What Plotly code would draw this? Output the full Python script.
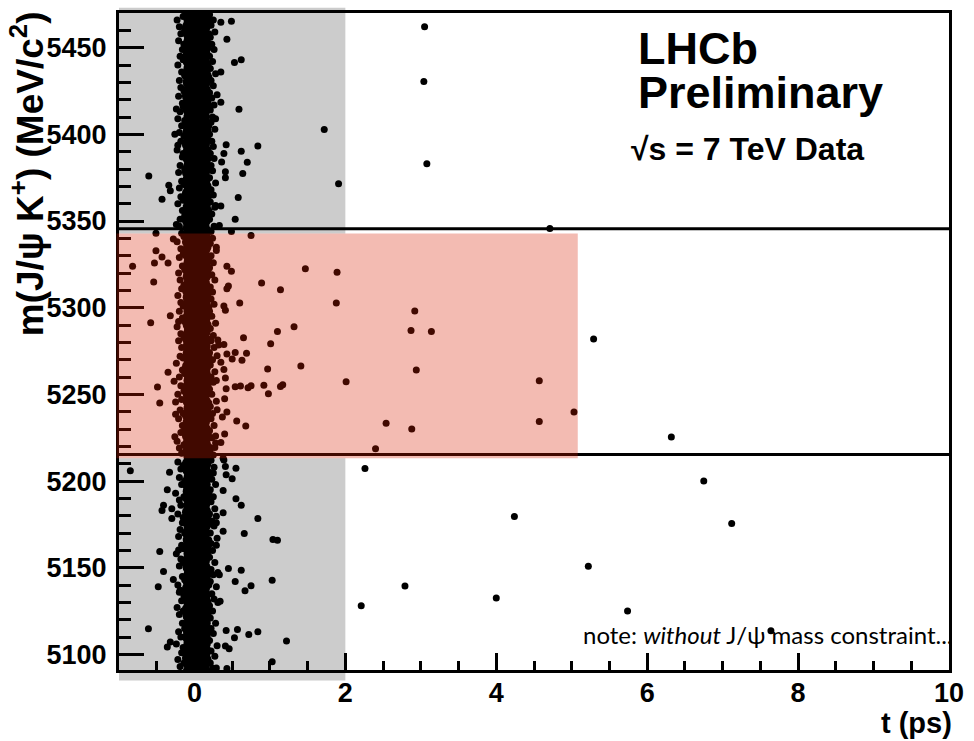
import plotly.graph_objects as go

# ---------------------------------------------------------------- axes ranges
T_RANGE = [-1.0, 10.0]          # decay time t (ps)
M_RANGE = [5091.0, 5470.0]      # m(J/psi K+) (MeV/c^2)

# prompt window (grey) and signal window (red)
PROMPT_T_MAX = 2.0
SIGNAL_T_MAX = 5.08
SIGNAL_M = [5213.2, 5342.8]
# horizontal mass cut lines
CUT_LINES = [5345.5, 5215.3]

# ---------------------------------------------------------------- data
# dense prompt core: (mass, t1, t2, t3)
core_rows = [
    (5090, -0.07, 0.03, 0.13), (5094, -0.06, 0.04, 0.12), (5098, -0.08, 0.02, 0.13),
    (5102, -0.07, 0.04, 0.14), (5106, -0.06, 0.03, 0.12), (5110, -0.08, 0.05, 0.13),
    (5114, -0.07, 0.03, 0.14), (5118, -0.06, 0.02, 0.13), (5122, -0.07, 0.04, 0.12),
    (5126, -0.08, 0.03, 0.13), (5130, -0.06, 0.05, 0.14), (5134, -0.07, 0.03, 0.13),
    (5138, -0.08, 0.02, 0.12), (5142, -0.07, 0.04, 0.13), (5146, -0.06, 0.03, 0.14),
    (5150, -0.07, 0.04, 0.13), (5154, -0.08, 0.03, 0.12), (5158, -0.06, 0.05, 0.13),
    (5162, -0.07, 0.02, 0.14), (5166, -0.07, 0.04, 0.13), (5170, -0.08, 0.03, 0.12),
    (5174, -0.06, 0.04, 0.13), (5178, -0.07, 0.03, 0.14), (5182, -0.08, 0.05, 0.13),
    (5186, -0.06, 0.02, 0.12), (5190, -0.07, 0.04, 0.13), (5194, -0.07, 0.03, 0.14),
    (5198, -0.08, 0.04, 0.13), (5202, -0.06, 0.03, 0.12), (5206, -0.07, 0.05, 0.13),
    (5210, -0.08, 0.02, 0.14), (5214, -0.06, 0.04, 0.13), (5218, -0.07, 0.03, 0.12),
    (5222, -0.07, 0.04, 0.13), (5226, -0.08, 0.03, 0.14), (5230, -0.06, 0.05, 0.13),
    (5234, -0.07, 0.02, 0.12), (5238, -0.08, 0.04, 0.13), (5242, -0.06, 0.03, 0.14),
    (5246, -0.07, 0.04, 0.13), (5250, -0.07, 0.03, 0.12), (5254, -0.08, 0.05, 0.13),
    (5258, -0.06, 0.02, 0.14), (5262, -0.07, 0.04, 0.13), (5266, -0.08, 0.03, 0.12),
    (5270, -0.06, 0.04, 0.13), (5274, -0.07, 0.03, 0.14), (5278, -0.07, 0.05, 0.13),
    (5282, -0.08, 0.02, 0.12), (5286, -0.06, 0.04, 0.13), (5290, -0.07, 0.03, 0.14),
    (5294, -0.08, 0.04, 0.13), (5298, -0.06, 0.03, 0.12), (5302, -0.07, 0.05, 0.13),
    (5306, -0.07, 0.02, 0.14), (5310, -0.08, 0.04, 0.13), (5314, -0.06, 0.03, 0.12),
    (5318, -0.07, 0.04, 0.13), (5322, -0.08, 0.03, 0.14), (5326, -0.06, 0.05, 0.13),
    (5330, -0.07, 0.02, 0.12), (5334, -0.07, 0.04, 0.13), (5338, -0.08, 0.03, 0.14),
    (5342, -0.06, 0.04, 0.13), (5346, -0.07, 0.03, 0.12), (5350, -0.08, 0.05, 0.13),
    (5354, -0.06, 0.02, 0.14), (5358, -0.07, 0.04, 0.13), (5362, -0.07, 0.03, 0.12),
    (5366, -0.08, 0.04, 0.13), (5370, -0.06, 0.03, 0.14), (5374, -0.07, 0.05, 0.13),
    (5378, -0.08, 0.02, 0.12), (5382, -0.06, 0.04, 0.13), (5386, -0.07, 0.03, 0.14),
    (5390, -0.07, 0.04, 0.13), (5394, -0.08, 0.03, 0.12), (5398, -0.06, 0.05, 0.13),
    (5402, -0.07, 0.02, 0.14), (5406, -0.08, 0.04, 0.13), (5410, -0.06, 0.03, 0.12),
    (5414, -0.07, 0.04, 0.13), (5418, -0.07, 0.03, 0.14), (5422, -0.08, 0.05, 0.13),
    (5426, -0.06, 0.02, 0.12), (5430, -0.07, 0.04, 0.13), (5434, -0.08, 0.03, 0.14),
    (5438, -0.06, 0.04, 0.13), (5442, -0.07, 0.03, 0.12), (5446, -0.07, 0.05, 0.13),
    (5450, -0.08, 0.02, 0.14), (5454, -0.06, 0.04, 0.13), (5458, -0.07, 0.03, 0.12),
    (5462, -0.08, 0.04, 0.13), (5466, -0.06, 0.03, 0.14), (5470, -0.07, 0.05, 0.13),
]

# candidates on the ragged left edge of the prompt core: (t, mass)
core_left_edge = [
    (-0.19, 5093), (-0.22, 5097), (-0.17, 5101), (-0.24, 5106), (-0.18, 5110),
    (-0.21, 5113), (-0.16, 5118), (-0.20, 5123), (-0.23, 5127), (-0.17, 5131),
    (-0.19, 5137), (-0.22, 5140), (-0.16, 5145), (-0.20, 5151), (-0.18, 5155),
    (-0.24, 5158), (-0.17, 5163), (-0.21, 5168), (-0.19, 5172), (-0.16, 5176),
    (-0.22, 5181), (-0.18, 5186), (-0.20, 5189), (-0.25, 5193), (-0.17, 5198),
    (-0.20, 5202), (-0.18, 5207), (-0.22, 5211), (-0.17, 5216), (-0.20, 5219),
    (-0.23, 5223), (-0.18, 5228), (-0.16, 5232), (-0.21, 5236), (-0.19, 5241),
    (-0.17, 5247), (-0.22, 5250), (-0.18, 5255), (-0.20, 5260), (-0.16, 5264),
    (-0.24, 5268), (-0.19, 5272), (-0.17, 5277), (-0.21, 5281), (-0.18, 5285),
    (-0.23, 5289), (-0.16, 5294), (-0.20, 5298), (-0.18, 5303), (-0.22, 5307),
    (-0.17, 5311), (-0.19, 5316), (-0.21, 5320), (-0.16, 5324), (-0.20, 5329),
    (-0.18, 5334), (-0.23, 5338), (-0.17, 5343), (-0.20, 5347), (-0.19, 5351),
    (-0.16, 5356), (-0.22, 5360), (-0.18, 5364), (-0.20, 5369), (-0.17, 5373),
    (-0.21, 5378), (-0.19, 5382), (-0.16, 5387), (-0.23, 5391), (-0.18, 5396),
    (-0.20, 5401), (-0.17, 5405), (-0.22, 5409), (-0.19, 5413), (-0.16, 5418),
    (-0.21, 5422), (-0.18, 5427), (-0.20, 5431), (-0.17, 5436), (-0.22, 5440),
    (-0.19, 5445), (-0.16, 5449), (-0.21, 5454), (-0.18, 5458), (-0.20, 5462),
    (-0.23, 5466),
    # second, inner row hugging the core
    (-0.14, 5095), (-0.15, 5104), (-0.13, 5115), (-0.15, 5125), (-0.14, 5134),
    (-0.13, 5143), (-0.15, 5153), (-0.14, 5161), (-0.13, 5170), (-0.15, 5179),
    (-0.14, 5191), (-0.13, 5200), (-0.15, 5209), (-0.14, 5221), (-0.13, 5230),
    (-0.15, 5239), (-0.14, 5252), (-0.13, 5262), (-0.15, 5271), (-0.14, 5283),
    (-0.13, 5292), (-0.15, 5301), (-0.14, 5313), (-0.13, 5322), (-0.15, 5331),
    (-0.14, 5341), (-0.13, 5353), (-0.15, 5362), (-0.14, 5371), (-0.13, 5380),
    (-0.15, 5389), (-0.14, 5399), (-0.13, 5408), (-0.15, 5416), (-0.14, 5425),
    (-0.13, 5434), (-0.15, 5443), (-0.14, 5452), (-0.13, 5460), (-0.15, 5468),
]

# candidates on the right edge (start of the lifetime tail): (t, mass)
core_right_edge = [
    (0.24, 5092), (0.21, 5095), (0.27, 5099), (0.22, 5102), (0.30, 5105),
    (0.20, 5108), (0.25, 5112), (0.22, 5115), (0.28, 5118), (0.21, 5121),
    (0.24, 5125), (0.20, 5128), (0.26, 5132), (0.23, 5135), (0.29, 5139),
    (0.21, 5142), (0.25, 5146), (0.22, 5149), (0.27, 5153), (0.20, 5156),
    (0.24, 5160), (0.22, 5164), (0.30, 5167), (0.21, 5170), (0.26, 5174),
    (0.23, 5177), (0.20, 5181), (0.27, 5184), (0.22, 5188), (0.25, 5191),
    (0.21, 5195), (0.28, 5198), (0.23, 5201), (0.20, 5205), (0.26, 5208),
    (0.22, 5212), (0.25, 5215), (0.21, 5218), (0.28, 5222), (0.23, 5225),
    (0.20, 5229), (0.26, 5232), (0.22, 5236), (0.24, 5239), (0.21, 5243),
    (0.29, 5246), (0.23, 5250), (0.20, 5253), (0.25, 5257), (0.22, 5260),
    (0.27, 5263), (0.21, 5267), (0.24, 5270), (0.20, 5274), (0.26, 5277),
    (0.22, 5281), (0.25, 5284), (0.21, 5288), (0.28, 5291), (0.23, 5295),
    (0.20, 5298), (0.26, 5302), (0.22, 5305), (0.24, 5309), (0.21, 5312),
    (0.27, 5316), (0.23, 5319), (0.20, 5323), (0.25, 5326), (0.22, 5330),
    (0.29, 5333), (0.21, 5337), (0.24, 5340), (0.22, 5344), (0.26, 5347),
    (0.20, 5351), (0.23, 5354), (0.27, 5358), (0.21, 5361), (0.25, 5365),
    (0.22, 5368), (0.28, 5372), (0.20, 5375), (0.24, 5379), (0.22, 5382),
    (0.26, 5386), (0.21, 5389), (0.25, 5393), (0.23, 5396), (0.20, 5400),
    (0.27, 5403), (0.22, 5407), (0.24, 5410), (0.21, 5414), (0.26, 5417),
    (0.23, 5421), (0.20, 5424), (0.25, 5428), (0.22, 5431), (0.28, 5435),
    (0.21, 5438), (0.24, 5442), (0.20, 5445), (0.26, 5449), (0.23, 5452),
    (0.21, 5456), (0.27, 5459), (0.22, 5463), (0.25, 5466), (0.20, 5469),
    # second, inner row hugging the core
    (0.18, 5097), (0.17, 5106), (0.19, 5113), (0.18, 5123), (0.17, 5130),
    (0.19, 5140), (0.18, 5147), (0.17, 5158), (0.19, 5166), (0.18, 5175),
    (0.17, 5183), (0.19, 5193), (0.18, 5203), (0.17, 5210), (0.19, 5220),
    (0.18, 5227), (0.17, 5237), (0.19, 5245), (0.18, 5255), (0.17, 5265),
    (0.19, 5272), (0.18, 5282), (0.17, 5290), (0.19, 5300), (0.18, 5308),
    (0.17, 5318), (0.19, 5328), (0.18, 5335), (0.17, 5345), (0.19, 5356),
    (0.18, 5363), (0.17, 5370), (0.19, 5380), (0.18, 5391), (0.17, 5398),
    (0.19, 5405), (0.18, 5415), (0.17, 5426), (0.19, 5433), (0.18, 5440),
    (0.17, 5451), (0.19, 5458), (0.18, 5465),
]

# isolated candidates, upper sideband: (t, mass)
upper_sideband = [
    (0.35, 5464.7), (0.49, 5465.3), (0.43, 5454.8), (0.62, 5443.0), (0.53, 5441.4),
    (0.35, 5436.0), (0.30, 5422.9), (0.35, 5418.5), (0.59, 5414.5), (1.72, 5402.8),
    (0.28, 5409.0), (0.84, 5393.3), (0.42, 5394.0), (0.39, 5389.0), (0.62, 5390.2),
    (0.70, 5383.9), (0.36, 5384.0), (0.41, 5378.4), (0.41, 5374.9), (0.64, 5377.4),
    (-0.605, 5376.0), (1.91, 5371.5), (-0.34, 5370.7), (-0.32, 5367.5), (-0.43, 5362.5),
    (0.58, 5363.6), (0.28, 5358.9), (0.35, 5358.7), (0.54, 5351.0), (0.33, 5347.4),
    (-0.24, 5414.6), (-0.26, 5400.0), (-0.22, 5393.7), (-0.24, 5348.0),
    (3.05, 5462.0), (3.04, 5430.5), (3.08, 5383.0), (4.71, 5345.7),
]

# isolated candidates, signal region: (t, mass)
signal_region = [
    (-0.51, 5343.0), (-0.28, 5339.6), (0.49, 5344.0), (0.75, 5341.7), (0.29, 5334.8),
    (-0.51, 5332.9), (-0.43, 5329.3), (-0.53, 5325.8), (-0.35, 5325.8), (-0.82, 5323.9),
    (0.43, 5323.9), (0.49, 5321.0), (1.47, 5322.4), (1.89, 5320.5), (-0.54, 5314.8),
    (0.89, 5314.2), (1.14, 5310.4), (0.45, 5312.5), (0.43, 5311.0), (0.60, 5302.7),
    (1.88, 5302.7), (0.39, 5301.0), (0.41, 5298.5), (-0.32, 5295.3), (-0.58, 5291.3),
    (-0.21, 5292.0), (1.32, 5289.0), (1.10, 5286.3), (0.65, 5282.7), (0.31, 5281.4),
    (1.01, 5279.2), (0.39, 5278.8), (0.32, 5278.5), (0.43, 5273.3), (0.54, 5274.2),
    (0.50, 5270.4), (0.69, 5273.7), (0.63, 5269.7), (0.30, 5272.3), (0.35, 5268.5),
    (0.39, 5264.3), (0.97, 5264.7), (1.41, 5266.4), (-0.35, 5262.8), (0.41, 5259.4),
    (-0.27, 5257.5), (0.29, 5258.0), (2.01, 5257.3), (-0.49, 5254.2), (0.42, 5253.3),
    (0.54, 5254.4), (0.61, 5254.8), (0.71, 5253.8), (0.75, 5255.0), (0.92, 5255.3),
    (1.17, 5255.5), (1.14, 5254.6), (0.98, 5250.4), (-0.46, 5245.0), (-0.25, 5245.6),
    (0.40, 5247.5), (0.30, 5241.2), (0.43, 5239.9), (-0.25, 5238.5), (0.37, 5237.0),
    (0.56, 5234.7), (0.68, 5231.7), (0.40, 5227.1), (-0.26, 5225.5), (0.28, 5226.0),
    (0.35, 5222.3), (0.27, 5219.4), (0.38, 5213.2),
    (2.92, 5298.1), (2.87, 5286.9), (3.14, 5286.3), (2.94, 5264.1), (4.57, 5257.9),
    (5.03, 5239.9), (4.57, 5234.3), (2.54, 5233.4), (2.88, 5230.0), (2.40, 5218.7),
    (5.29, 5281.9), (6.32, 5225.4),
]

# isolated candidates, lower sideband: (t, mass)
lower_sideband = [
    (-0.85, 5206.0), (-0.33, 5205.1), (0.39, 5212.2), (0.41, 5208.4), (0.55, 5207.4),
    (0.42, 5203.6), (0.50, 5201.3), (0.25, 5204.6), (-0.36, 5195.0), (0.38, 5194.6),
    (0.55, 5189.8), (0.62, 5186.0), (-0.41, 5186.0), (-0.43, 5183.0), (-0.30, 5184.0),
    (0.38, 5181.7), (-0.30, 5178.4), (0.84, 5178.4), (0.29, 5179.7), (0.29, 5176.0),
    (0.38, 5171.1), (0.66, 5169.8), (1.04, 5166.3), (1.10, 5165.8), (0.29, 5162.9),
    (-0.46, 5159.3), (-0.21, 5160.2), (0.45, 5149.5), (0.62, 5148.6), (-0.41, 5147.8),
    (0.31, 5147.3), (0.33, 5145.9), (-0.28, 5143.2), (0.54, 5142.1), (1.03, 5142.8),
    (-0.48, 5139.0), (0.75, 5139.6), (0.67, 5136.7), (-0.20, 5135.8), (0.31, 5130.0),
    (0.34, 5130.6), (-0.61, 5114.8), (0.42, 5113.8), (0.57, 5114.4), (0.53, 5109.6),
    (0.72, 5111.5), (0.84, 5113.0), (1.22, 5107.8), (-0.32, 5107.1), (-0.36, 5104.2),
    (0.41, 5104.8), (0.46, 5103.3), (1.03, 5095.7), (0.29, 5092.2), (0.43, 5091.8),
    (2.26, 5207.2), (6.75, 5200.0), (4.24, 5179.5), (7.12, 5175.5), (5.22, 5150.9),
    (2.79, 5139.4), (4.00, 5132.5), (2.21, 5128.0), (5.74, 5125.0), (7.64, 5113.6),
]

X_TICKS = [0, 2, 4, 6, 8, 10]
Y_TICKS = [5100, 5150, 5200, 5250, 5300, 5350, 5400, 5450]

# ---------------------------------------------------------------- frame geometry
W, H = 974, 741
L, R, T, B = 119, 19, 10, 71
PW, PH = W - L - R, H - T - B


def px_x(px):
    return (px - L) / PW


def px_y(py):
    return (H - B - py) / PH


def m_to_paper(m):
    return (m - M_RANGE[0]) / (M_RANGE[1] - M_RANGE[0])


def t_to_paper(t):
    return (t - T_RANGE[0]) / (T_RANGE[1] - T_RANGE[0])


core_t, core_m = [], []
for m, *ts in core_rows:
    for t in ts:
        core_t.append(t)
        core_m.append(m)

others = core_left_edge + core_right_edge + upper_sideband + signal_region + lower_sideband
oth_t = [p[0] for p in others]
oth_m = [p[1] for p in others]

fig = go.Figure()
fig.add_trace(go.Scatter(
    x=core_t, y=core_m, mode="markers",
    marker=dict(size=13, color="black", line=dict(width=0)),
    showlegend=False, hoverinfo="skip"))
fig.add_trace(go.Scatter(
    x=oth_t, y=oth_m, mode="markers",
    marker=dict(size=7, color="black", line=dict(width=0)),
    showlegend=False))

BOLD = dict(family="Liberation Sans, Arial, sans-serif", color="black", weight="bold")

shapes = [
    # prompt window, split around the signal box
    dict(type="rect", xref="x", yref="paper", x0=T_RANGE[0], x1=PROMPT_T_MAX,
         y0=m_to_paper(SIGNAL_M[1]), y1=1.008, fillcolor="#cccccc",
         line=dict(width=0), layer="below"),
    dict(type="rect", xref="x", yref="paper", x0=T_RANGE[0], x1=PROMPT_T_MAX,
         y0=-0.016, y1=m_to_paper(SIGNAL_M[0]), fillcolor="#cccccc",
         line=dict(width=0), layer="below"),
]
for m in CUT_LINES:
    shapes.append(dict(type="line", xref="paper", yref="y", x0=0, x1=1, y0=m, y1=m,
                       line=dict(color="black", width=3), layer="above"))
# signal box, translucent red over everything
shapes.append(dict(type="rect", xref="paper", yref="y", x0=-0.003,
                   x1=t_to_paper(SIGNAL_T_MAX), y0=SIGNAL_M[0], y1=SIGNAL_M[1],
                   fillcolor="rgba(215,30,0,0.30)", line=dict(width=0), layer="above"))

annotations = [
    dict(text="LHCb", x=px_x(640), y=px_y(46), xanchor="left", yanchor="middle",
         font=dict(BOLD, size=45)),
    dict(text="Preliminary", x=px_x(640), y=px_y(90), xanchor="left", yanchor="middle",
         font=dict(BOLD, size=45)),
    dict(text="√s = 7 TeV Data", x=px_x(633), y=px_y(147), xanchor="left",
         yanchor="middle", font=dict(BOLD, size=32)),
    dict(text="note: <i>without</i> J/ψ mass constraint...", x=px_x(961), y=px_y(634),
         xanchor="right", yanchor="middle",
         font=dict(family="Lato, sans-serif", size=24, color="black")),
    dict(text="t (ps)", x=px_x(960), y=px_y(723), xanchor="right", yanchor="middle",
         font=dict(BOLD, size=29)),
    dict(text="m(J/ψ K<sup>+</sup>) (MeV/c<sup>2</sup>)", x=px_x(27), y=px_y(6),
         xanchor="center", yanchor="top", textangle=-90, font=dict(BOLD, size=37)),
]
for a in annotations:
    a.update(xref="paper", yref="paper", showarrow=False)

axis_common = dict(
    showline=True, linecolor="black", linewidth=3, mirror=True,
    ticks="inside", tickcolor="black", tickwidth=3,
    showgrid=False, zeroline=False,
    tickfont=dict(BOLD, size=27),
)

fig.update_layout(
    width=W, height=H,
    margin=dict(l=L, r=R, t=T, b=B),
    paper_bgcolor="white", plot_bgcolor="white",
    shapes=shapes, annotations=annotations,
    xaxis=dict(axis_common, range=T_RANGE, tickvals=X_TICKS, ticklen=17,
               ticklabelstandoff=-3,
               minor=dict(ticks="inside", ticklen=9, tickwidth=3, tickcolor="black",
                          dtick=0.5, tick0=0)),
    yaxis=dict(axis_common, range=M_RANGE, tickvals=Y_TICKS, ticklen=25,
               ticklabelstandoff=4,
               minor=dict(ticks="inside", ticklen=12, tickwidth=3, tickcolor="black",
                          dtick=10, tick0=5100)),
)

fig.write_html("out.html")
